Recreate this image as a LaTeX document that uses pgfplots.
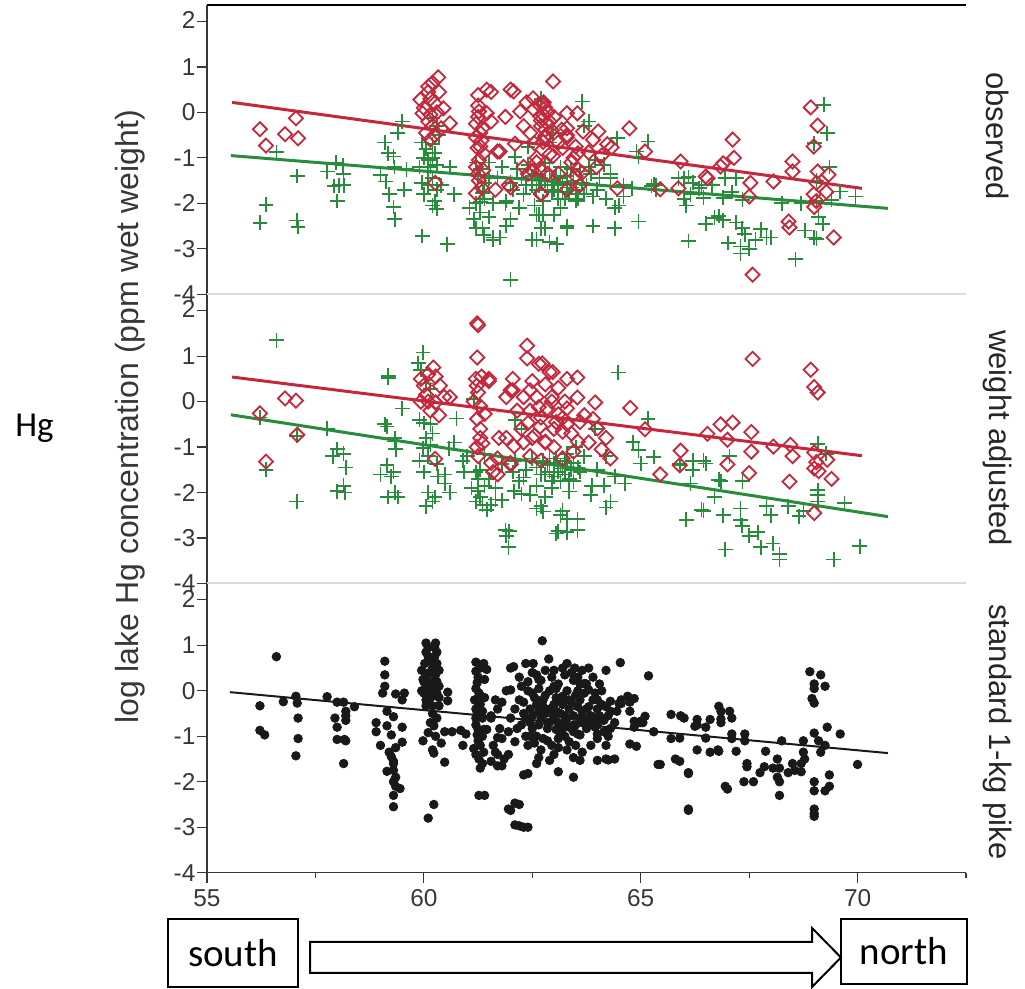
\documentclass[border=0pt]{standalone}
\usepackage{pgfplots}
\pgfplotsset{compat=1.18}
\usepackage{fontspec}
\setmainfont{Liberation Sans}
\newfontfamily\calibri{Carlito}
\definecolor{myred}{RGB}{196,40,60}
\definecolor{mygreen}{RGB}{40,140,60}
\definecolor{tickgray}{RGB}{55,55,55}
\definecolor{sepgray}{RGB}{218,218,218}
\pgfplotsset{
  panel/.style={
    width=379.5pt, height=144.6pt, scale only axis,
    xmin=55, xmax=72.5, ymin=-4, ymax=2.36, clip=false,
    axis y line*=left,
    ytick={-4,-3,-2,-1,0,1,2}, yticklabels={\raisebox{-1.2pt}{-4},-3,-2,-1,0,1,\raisebox{1.2pt}{2}},
    tick align=outside, major tick length=5pt, minor tick length=2.5pt,
    tick style={color=tickgray, line width=0.6pt},
    axis line style={color=tickgray, line width=0.8pt},
    ticklabel style={font=\fontsize{12.2}{12.2}\selectfont, text=tickgray},
    yticklabel style={inner sep=0.6pt},
  },
  redpts/.style={only marks, mark=square, mark size=2.5pt, mark options={rotate=45, draw=myred, line width=0.9pt, fill=none}},
  greenpts/.style={only marks, mark=+, mark size=3.7pt, mark options={draw=mygreen, line width=0.85pt}},
}
\begin{document}
\begin{tikzpicture}
\useasboundingbox (0,0) rectangle (512.5pt,494.5pt);
% ---------------- top panel: observed
\begin{axis}[panel, at={(103.5pt,347.35pt)}, anchor=south west, axis x line=none]
\addplot[greenpts] table {
56.22 -2.43
56.36 -2.03
56.6 -0.87
57.08 -1.4
57.07 -2.38
57.1 -2.52
57.77 -1.3
57.98 -1.1
57.93 -1.62
58.0 -1.95
58.13 -1.17
58.15 -1.35
58.16 -1.6
58.05 -1.6
59.0 -1.37
59.1 -0.66
59.18 -0.9
59.3 -0.97
59.32 -1.2
59.12 -1.52
59.2 -1.8
59.3 -2.08
59.33 -2.35
59.5 -0.2
59.4 -0.45
59.6 -1.25
59.55 -1.7
59.96 -2.72
59.95 -0.66
60.05 -0.8
60.2 -1.0
60.1 -1.05
60.3 -1.15
59.95 -1.55
60.1 -1.3
60.2 -1.45
60.2 -2.05
60.3 -2.12
60.25 -1.95
60.54 -2.9
60.6 -1.2
60.7 -1.8
60.2 -0.13
60.3 -0.3
60.15 -1.2
60.25 -0.9
61.05 -2.1
61.15 -2.35
61.2 -2.55
61.35 -2.55
61.38 -2.7
61.3 -1.97
61.3 -2.2
61.37 -1.75
61.6 -2.75
61.75 -2.75
62.0 -3.68
61.88 -2.0
62.0 -2.35
62.05 -1.7
62.15 -1.25
62.6 -2.8
62.6 -2.25
62.75 -1.95
62.75 -2.25
62.8 -2.55
63.07 -2.9
63.15 -2.1
63.3 -2.55
62.7 0.3
62.9 -0.66
63.65 0.24
62.98 -0.46
63.7 -0.3
64.46 -0.57
65.17 -0.64
64.9 -0.86
65.3 -1.58
65.87 -1.45
66.1 -1.42
66.4 -1.6
66.0 -1.9
66.05 -2.05
64.95 -2.4
66.1 -2.83
67.02 -2.87
66.5 -2.45
66.7 -2.32
66.8 -2.28
61.6 -2.8
62.5 -2.8
62.9 -2.85
62.7 -2.55
63.3 -2.5
63.9 -2.5
62.65 -2.25
63.0 -2.25
62.2 -2.1
61.5 -2.3
61.6 -2.0
61.9 -1.95
64.4 -2.1
64.6 -1.85
63.5 -1.95
62.95 -1.6
63.0 -1.7
63.55 -1.9
63.65 -1.55
64.3 -1.45
63.3 -1.4
62.25 -1.45
62.0 -1.55
62.5 -1.4
62.65 -1.6
61.7 -1.45
61.5 -1.45
61.35 -1.78
63.8 -0.2
62.4 -0.76
62.1 -0.98
62.8 -1.12
63.15 -1.2
63.8 -1.2
63.95 -1.05
64.3 -1.35
64.6 -1.6
64.8 -1.67
65.35 -1.6
66.35 -1.67
67.1 -1.75
67.2 -1.45
64.95 -0.97
66.0 -1.45
66.2 -1.55
66.15 -1.8
66.45 -1.88
66.65 -1.6
66.95 -1.45
66.9 -1.88
64.4 -2.55
66.9 -2.37
67.2 -2.42
67.34 -2.55
67.4 -2.68
67.3 -2.95
67.3 -3.1
67.5 -3.0
67.65 -2.8
67.77 -2.57
67.9 -2.75
68.0 -2.75
68.57 -3.23
68.78 -2.6
69.0 -2.75
69.05 -2.78
69.2 -2.45
69.1 -2.3
69.05 -1.95
68.7 -2.0
68.25 -2.0
67.35 -1.92
69.22 0.17
69.3 -0.46
69.0 -0.68
69.35 -1.2
69.05 -1.5
69.4 -1.92
69.6 -1.74
69.95 -1.85
65.25 -1.62
65.35 -1.7
64.5 -2.05
62.9 -1.3
63.0 -1.5
63.1 -1.6
62.8 -1.5
63.2 -1.75
63.4 -1.65
62.6 -1.7
62.3 -1.8
61.8 -1.2
61.2 -1.1
61.25 -1.4
61.4 -1.55
64.0 -1.7
64.2 -1.9
63.7 -1.8
63.85 -1.35
64.15 -1.15
60.4 -1.6
60.0 -1.8
62.35 -1.6
63.25 -1.9
63.45 -1.5
62.55 -2.05
61.9 -2.5
62.4 -1.15
62.6 -1.35
62.7 -1.45
62.85 -1.7
63.05 -1.4
63.1 -1.9
63.2 -1.55
63.35 -1.8
63.5 -1.7
63.6 -1.3
63.75 -1.6
63.9 -1.85
64.05 -1.45
62.95 -1.75
63.15 -1.45
63.4 -1.25
63.3 -1.65
62.5 -1.6
60.1 -1.6
60.2 -0.7
60.0 -1.0
60.3 -1.7
59.9 -1.2
60.35 -0.5
61.3 -1.25
61.4 -1.9
61.2 -2.0
61.5 -1.1
};
\addplot[redpts] table {
56.22 -0.37
56.36 -0.73
56.8 -0.48
57.05 -0.13
57.1 -0.57
60.33 0.77
60.1 0.57
60.2 0.65
59.92 0.28
60.45 0.09
59.97 -0.02
60.6 -0.24
60.1 -0.2
60.2 -0.3
60.05 -0.45
60.15 -0.6
60.25 -0.5
60.26 -1.55
60.1 0.45
60.0 0.1
60.3 0.0
60.4 -0.35
60.15 0.3
60.35 0.45
61.45 0.5
61.25 0.38
61.55 0.45
61.27 0.02
61.2 -0.25
61.3 -0.45
61.2 -0.55
61.33 -0.62
61.24 -0.78
61.37 -0.9
61.27 -1.05
61.2 -1.2
61.37 -1.27
61.27 -1.5
61.2 -1.78
61.33 -1.65
61.55 -0.2
61.45 -0.02
61.25 -0.1
61.35 -0.35
61.7 -0.86
61.65 -1.7
62.0 0.5
61.88 -0.1
62.0 -1.65
62.22 0.02
62.37 0.22
62.53 0.07
62.65 0.18
62.76 0.22
62.98 0.68
62.3 -0.3
62.45 -0.45
62.55 -0.68
62.68 -0.08
62.7 -0.3
62.8 -0.52
62.6 -1.0
62.3 -1.2
62.5 -1.28
62.7 -1.78
62.4 -1.35
62.9 -0.92
62.85 -1.35
63.3 -0.02
63.18 -0.38
63.3 -0.55
63.2 -0.78
63.3 -1.7
62.07 0.46
62.52 0.31
62.75 0.18
62.7 -0.18
62.8 -0.38
63.54 -0.02
63.3 -0.35
63.67 -0.42
64.02 -0.42
64.74 -0.35
64.23 -0.7
64.33 -0.77
65.1 -0.86
65.92 -1.08
66.84 -1.19
67.12 -0.6
67.15 -1.0
66.54 -1.45
65.87 -1.67
65.45 -1.69
64.46 -1.67
63.6 -1.6
63.65 -1.33
63.55 -1.25
62.7 -1.27
62.6 -1.1
61.96 -1.6
62.7 -1.8
61.75 -0.86
62.1 -0.69
62.8 -0.55
63.1 -0.66
63.55 -0.9
63.5 -0.75
62.98 -0.96
63.3 -0.5
63.8 -0.88
63.98 -1.2
62.85 0.0
62.9 -0.2
62.95 -0.4
63.0 -0.1
63.9 -0.6
64.1 -0.95
63.4 -1.1
63.1 -1.35
66.9 -1.12
67.53 -1.55
67.5 -1.85
67.58 -3.57
68.06 -1.52
68.5 -1.08
68.5 -1.3
68.41 -2.4
68.43 -2.53
68.92 0.11
69.08 -0.29
68.99 -0.75
69.08 -1.3
69.33 -1.37
69.28 -1.75
68.99 -1.8
69.05 -1.95
69.0 -2.08
69.45 -2.75
66.5 -1.41
69.05 -1.55
62.75 -0.05
62.8 0.1
62.85 -0.25
62.75 -0.65
61.25 0.15
61.3 -0.75
61.25 -1.35
60.15 -0.05
60.25 0.2
63.5 -1.4
63.45 -1.0
};
\addplot[no marks, color=mygreen, line width=1.5pt] coordinates {(55.55,-0.95) (70.7,-2.11)};
\addplot[no marks, color=myred, line width=1.5pt] coordinates {(55.58,0.22) (70.1,-1.67)};
\end{axis}
% ---------------- middle panel: weight adjusted
\begin{axis}[panel, at={(103.5pt,202.75pt)}, anchor=south west, axis x line=none]
\addplot[greenpts] table {
56.6 1.35
56.22 -0.35
56.36 -1.5
57.07 -0.75
57.07 -2.2
57.77 -0.6
57.9 -1.2
58.0 -1.05
58.15 -1.15
58.2 -1.45
58.0 -1.97
58.15 -1.85
58.18 -2.0
59.18 0.57
59.18 0.52
59.1 -0.5
59.15 -0.55
59.33 -0.8
59.33 -0.88
59.5 -0.15
59.0 -1.6
59.15 -1.4
59.25 -1.65
59.3 -1.55
59.33 -2.0
59.17 -2.1
59.4 -2.1
59.35 -1.05
59.98 1.08
59.87 0.85
59.93 0.7
60.05 0.4
60.15 0.27
59.9 -0.4
60.0 -0.47
60.15 -0.5
60.05 -0.8
59.98 -1.02
60.15 -0.95
59.9 -1.3
60.3 -1.37
60.32 -1.65
60.48 -1.6
60.1 -2.0
60.25 -2.1
60.05 -2.3
60.2 -2.2
60.48 -1.8
60.58 -1.03
60.75 -0.37
60.92 -1.55
61.0 -1.2
61.1 -1.9
61.25 -1.97
61.2 -2.2
61.35 -2.27
61.45 -2.38
61.55 -2.27
61.65 -2.15
61.88 -2.83
61.9 -2.95
61.95 -3.2
62.08 -1.97
62.3 -1.67
62.45 -2.05
62.6 -2.35
62.75 -2.42
63.05 -2.9
63.15 -2.5
63.3 -2.87
63.3 -2.58
63.15 -1.75
61.15 0.05
64.48 0.64
65.17 -0.38
64.82 -0.89
64.95 -1.07
65.3 -1.22
65.0 -1.36
64.63 -1.8
64.4 -1.65
64.2 -2.33
63.54 -2.58
63.54 -2.83
63.1 -2.85
61.97 -2.85
63.2 -2.4
62.7 -2.3
62.25 -2.03
61.8 -2.17
62.95 -1.9
63.35 -1.98
63.85 -2.05
63.6 -1.55
63.2 -1.47
62.85 -1.4
62.5 -1.25
62.1 -1.3
61.8 -1.37
63.05 -1.25
63.35 -1.7
64.0 -1.5
64.15 -1.85
62.25 -0.6
62.1 -0.4
63.95 -0.6
66.15 -1.8
65.9 -1.36
66.2 -1.5
66.5 -1.36
66.8 -1.72
66.05 -2.6
66.4 -2.38
66.7 -2.1
66.9 -2.5
66.95 -3.25
64.3 -2.2
63.87 -1.85
66.45 -2.4
67.3 -2.6
67.34 -2.73
67.5 -2.95
67.7 -2.87
67.77 -3.2
68.05 -3.12
68.2 -3.35
68.2 -3.47
67.9 -2.3
68.0 -2.5
68.4 -2.3
68.65 -2.52
68.75 -2.4
69.45 -3.47
69.7 -2.23
70.05 -3.18
69.08 -0.93
69.28 -1.15
69.08 -1.95
69.08 -2.05
69.08 -2.2
66.2 -1.3
66.45 -1.3
65.9 -1.4
67.05 -1.2
66.85 -1.75
67.35 -1.75
67.3 -2.35
62.9 -1.55
63.0 -1.65
62.7 -1.6
63.25 -1.3
63.45 -1.35
62.6 -1.85
62.35 -1.5
61.5 -1.7
61.3 -1.5
61.4 -1.15
60.7 -0.9
60.9 -1.3
63.7 -1.2
63.5 -1.0
64.2 -1.2
62.8 -2.1
61.65 -1.9
60.6 -2.0
62.6 -1.45
62.8 -1.6
63.0 -1.35
63.1 -1.55
63.25 -1.6
63.4 -1.5
63.3 -1.15
62.95 -1.75
62.9 -1.25
62.75 -1.3
63.15 -1.4
63.55 -1.45
63.45 -1.75
60.0 -1.55
60.1 -1.2
60.2 -0.7
61.2 -1.55
61.3 -2.1
61.25 -1.7
61.4 -1.85
62.05 -1.55
62.2 -1.75
};
\addplot[redpts] table {
56.22 -0.26
56.36 -1.32
56.8 0.07
57.05 0.02
57.08 -0.73
60.22 0.75
60.1 0.6
59.93 0.5
60.27 0.55
60.0 0.35
60.37 0.35
60.05 0.15
59.93 0.0
60.47 0.1
60.27 -0.02
60.1 0.0
60.26 -1.26
60.6 0.1
60.15 -0.2
60.35 -0.3
61.23 1.72
61.25 1.68
61.23 0.97
61.2 0.5
61.33 0.55
61.5 0.5
61.22 0.35
61.15 0.0
61.3 -0.1
61.23 -0.38
61.4 -0.27
61.3 -0.6
61.22 -1.0
61.35 -0.92
61.25 -1.2
61.6 -1.55
61.55 -1.35
61.73 -0.8
62.38 1.23
62.38 0.95
62.05 0.5
61.9 0.1
62.05 0.25
62.3 0.1
62.45 0.25
62.5 0.45
62.65 0.83
62.9 0.65
62.8 0.38
62.65 -0.12
62.15 -0.2
62.4 -0.47
62.55 -0.75
62.68 -0.55
62.8 -0.9
62.08 -0.98
62.0 -1.35
62.45 -1.2
62.7 -1.3
63.3 0.5
63.25 0.0
63.2 -0.36
63.3 -0.5
63.2 -1.25
62.73 0.84
62.97 0.65
63.54 0.53
63.54 0.09
63.95 -0.02
64.76 -0.14
65.1 -0.61
65.92 -1.08
65.9 -1.4
65.45 -1.6
66.54 -0.71
66.84 -0.5
67.12 -0.46
67.0 -0.84
67.0 -1.38
62.7 -0.35
63.1 -0.28
63.3 -0.15
63.6 -0.45
63.7 -0.3
63.9 -0.38
64.0 -0.59
64.2 -0.8
64.3 -1.25
64.1 -1.05
63.55 -0.88
63.2 -0.66
62.8 -0.88
62.5 -0.8
61.9 -0.8
61.7 -1.25
61.7 -1.6
62.0 -1.38
62.25 -0.6
62.45 -0.2
62.0 0.25
61.5 0.45
67.58 0.94
68.92 0.7
69.0 0.32
69.08 0.2
67.55 -0.67
67.55 -1.1
67.5 -1.57
68.06 -0.99
68.45 -0.95
68.5 -1.2
68.43 -1.76
69.0 -1.12
69.05 -1.33
69.0 -1.47
69.1 -1.53
69.3 -1.28
69.4 -1.7
69.0 -2.45
63.0 -0.6
63.4 -0.7
63.8 -0.9
63.0 -1.0
62.95 0.1
63.1 0.3
63.45 -1.1
62.3 -0.9
62.85 -0.15
62.95 0.0
61.25 0.2
61.3 -0.8
63.05 -0.45
62.6 0.1
};
\addplot[no marks, color=mygreen, line width=1.5pt] coordinates {(55.55,-0.29) (70.7,-2.53)};
\addplot[no marks, color=myred, line width=1.5pt] coordinates {(55.58,0.54) (70.1,-1.19)};
\end{axis}
% ---------------- bottom panel: standard 1-kg pike
\begin{axis}[panel, at={(103.5pt,58.15pt)}, anchor=south west, axis x line*=bottom,
  xtick={55,60,65,70}, xticklabels={55,60,65,70}, minor xtick={57.5,62.5,67.5,72.5}]
\addplot[only marks, mark=*, mark size=2.15pt, mark options={draw=black!90, fill=black!90}] table {
56.6 0.75
56.22 -0.33
56.22 -0.87
56.33 -0.97
56.76 -0.24
57.05 -0.12
57.08 -0.27
57.1 -0.6
57.1 -1.05
57.05 -1.43
57.77 -0.13
57.95 -0.6
58.0 -0.25
58.0 -0.8
58.0 -1.07
58.17 -1.07
58.2 -1.1
58.15 -0.25
58.2 -0.45
58.2 -0.55
58.2 -0.65
58.15 -1.6
58.4 -0.35
58.9 -0.7
58.9 -0.9
59.0 -1.2
59.1 0.65
59.1 0.35
59.1 0.1
59.05 -0.05
59.15 -0.45
59.15 -0.77
59.25 -0.97
59.3 -0.57
59.35 -0.07
59.2 -1.35
59.3 -1.55
59.3 -1.75
59.3 -2.0
59.35 -1.9
59.3 -2.3
59.3 -2.55
59.45 -2.15
59.15 -1.77
59.5 -1.13
59.5 -0.8
59.55 -0.05
59.5 -0.2
59.3 -1.6
59.35 -2.1
59.25 -1.45
59.35 -1.25
59.95 0.45
59.98 0.25
60.05 1.05
60.1 0.75
60.02 0.6
60.12 0.4
60.2 0.1
60.27 1.05
60.3 0.85
60.3 0.6
60.27 0.35
60.35 0.1
60.23 -0.1
60.05 -0.33
60.2 -0.33
60.35 -0.33
60.0 -0.05
59.98 -1.1
60.1 -0.92
60.23 -0.77
60.27 -1.0
60.4 -1.15
60.2 -1.3
60.23 -1.37
60.1 -2.8
60.23 -2.5
60.48 -1.57
60.55 -0.03
60.55 -0.22
60.48 -0.9
60.65 -0.9
60.85 -0.87
60.9 -1.2
60.97 -0.95
60.0 0.2
60.1 0.15
60.2 0.5
60.3 0.2
60.15 -0.15
60.25 0.95
60.05 0.85
60.05 0.3
60.15 0.65
60.25 0.75
60.35 0.45
60.1 0.95
60.3 -0.05
60.05 -0.2
60.15 0.0
60.25 0.25
60.35 -0.15
59.95 0.0
60.05 0.1
60.2 -0.5
60.15 -0.7
60.3 -0.6
61.2 0.63
61.38 0.6
61.45 0.47
61.2 0.43
61.23 0.18
61.27 -0.05
61.17 -0.2
61.3 -0.3
61.23 -0.48
61.35 -0.6
61.2 -0.75
61.38 -0.85
61.23 -0.97
61.3 -1.2
61.15 -1.27
61.38 -1.35
61.27 -1.5
61.3 -1.7
61.27 -2.3
61.45 -0.85
61.55 -0.55
61.6 -1.2
61.65 -1.35
61.7 -1.03
61.55 -1.55
61.7 -1.65
61.8 -1.65
61.85 -1.5
61.2 0.05
61.25 -0.35
61.3 0.5
61.2 -0.6
61.35 -0.45
61.25 -0.85
61.3 -0.95
61.2 -1.4
61.35 -1.6
61.4 0.25
61.4 -0.15
62.0 0.5
62.0 0.02
61.95 -2.6
62.1 -2.47
62.1 -2.95
62.3 -3.0
62.3 -1.85
61.25 0.3
61.3 -0.1
61.2 -0.4
61.35 -1.0
61.25 -1.1
62.73 1.1
62.07 0.53
62.35 0.6
62.52 0.6
62.88 0.7
63.2 0.5
63.48 0.5
64.53 0.62
65.18 0.33
62.2 0.3
62.7 0.23
63.0 0.1
63.45 0.23
63.7 0.16
61.9 0.0
62.5 -0.05
62.2 -0.2
62.75 -0.2
63.2 -0.12
63.6 -0.2
63.8 0.02
61.8 -0.25
61.7 -0.4
62.1 -0.4
62.45 -0.4
62.9 -0.4
63.35 -0.4
63.75 -0.4
64.0 -0.4
64.3 -0.23
64.55 -0.2
64.7 -0.12
61.55 -0.6
62.0 -0.6
62.35 -0.6
62.7 -0.6
63.0 -0.6
63.3 -0.6
63.6 -0.6
63.95 -0.6
64.25 -0.55
64.45 -0.45
64.85 -0.67
65.0 -0.67
65.1 -0.56
65.7 -0.52
66.0 -0.6
66.3 -0.75
66.6 -0.63
66.8 -0.34
66.85 -0.45
61.75 -0.83
62.15 -0.83
62.5 -0.83
62.85 -0.83
63.2 -0.83
63.45 -0.9
63.75 -0.83
64.0 -0.75
64.3 -0.83
61.8 -1.05
62.1 -1.12
62.4 -1.2
62.75 -1.05
63.1 -1.05
63.35 -1.12
63.6 -0.97
64.0 -1.05
64.25 -1.0
64.75 -1.17
65.7 -1.05
66.3 -1.3
66.6 -1.35
61.7 -1.4
61.95 -1.4
62.65 -1.47
62.9 -1.53
63.1 -1.25
63.45 -1.47
63.6 -1.53
64.0 -1.53
64.25 -1.52
65.45 -1.62
65.9 -1.55
62.6 -1.6
62.4 -1.82
63.1 -1.78
63.45 -1.9
66.1 -1.82
67.0 -2.16
66.1 -2.63
62.0 -2.63
62.2 -2.5
62.2 -2.97
62.4 -3.0
61.4 -2.3
62.6 -0.3
62.8 -0.5
63.0 -0.3
63.15 -0.5
63.25 -0.7
63.4 -0.25
63.55 -0.35
63.65 -0.7
63.85 -0.55
63.9 -0.2
62.55 -0.15
62.65 0.05
62.9 0.0
63.05 -0.15
63.3 0.0
63.5 -0.1
63.7 -0.05
62.85 -0.7
63.05 -0.85
62.6 -1.0
62.95 -1.2
63.25 -1.0
63.5 -0.75
64.1 -0.3
64.15 -0.9
62.3 -0.25
62.25 -0.75
62.45 -1.0
61.95 -0.9
61.65 -0.2
62.25 0.1
62.4 0.2
62.6 0.35
62.8 0.45
62.95 0.3
63.1 0.15
63.25 0.35
63.4 0.4
63.55 0.3
63.65 0.45
63.9 0.3
64.05 0.15
62.3 -0.5
62.5 -0.55
62.65 -0.75
62.75 -0.35
62.95 -0.5
63.1 -0.7
63.2 -0.3
63.35 -0.8
63.45 -0.55
63.55 -0.95
63.7 -0.6
63.8 -0.35
63.95 -0.8
64.05 -0.55
64.15 -0.65
64.3 -0.45
64.4 -0.7
62.35 -1.0
62.55 -1.15
62.7 -1.3
62.85 -1.1
63.0 -1.4
63.15 -0.95
63.3 -1.3
63.5 -1.2
63.65 -1.35
63.85 -1.2
64.0 -0.95
64.2 -1.2
62.4 0.0
62.6 -0.2
62.8 -0.1
63.05 0.05
63.15 -0.25
63.35 -0.2
63.55 0.0
63.75 0.15
63.95 -0.05
64.1 0.0
62.45 -0.7
62.65 -0.45
62.9 -0.7
63.05 -0.45
63.25 -0.55
63.45 -0.75
63.65 -0.45
63.85 -0.7
64.0 -0.2
64.2 -0.35
62.5 0.4
62.65 0.25
63.0 0.45
63.3 0.6
63.6 0.15
63.8 0.5
64.2 0.45
64.5 -0.28
64.75 -0.45
64.85 -0.17
64.75 -0.25
64.55 -0.28
65.92 -0.55
66.3 -0.63
66.25 -0.78
66.5 -0.8
66.5 -1.04
66.85 -0.7
66.85 -0.62
67.05 -0.45
67.1 -0.6
67.1 -0.95
67.1 -1.05
66.8 -1.33
66.78 -1.3
67.2 -1.33
67.4 -0.95
67.4 -1.1
67.45 -1.6
67.45 -1.67
67.38 -2.0
67.6 -2.0
66.95 -2.1
67.75 -1.8
67.85 -1.67
67.88 -1.33
68.05 -1.7
68.15 -1.5
68.2 -1.7
68.15 -1.9
68.2 -2.0
68.25 -1.1
68.2 -2.3
68.4 -1.8
68.5 -1.6
68.55 -1.75
68.7 -1.78
68.7 -1.6
68.75 -1.35
68.75 -1.1
68.78 -1.5
68.9 0.42
69.15 0.35
69.0 0.05
69.0 0.15
69.25 0.1
68.95 -0.17
69.0 -0.27
69.0 -0.93
69.1 -1.1
69.15 -1.35
69.25 -1.2
69.0 -2.0
69.0 -2.2
69.25 -2.2
69.35 -2.1
69.35 -1.85
69.3 -0.8
69.6 -0.95
69.0 -2.6
69.0 -2.7
69.0 -2.76
70.0 -1.62
64.9 -1.22
65.4 -1.62
65.8 -1.5
66.1 -1.8
66.1 -2.6
64.85 -0.8
64.2 -1.5
64.4 -1.5
65.3 -0.9
65.0 -0.7
65.05 -0.7
65.9 -1.04
};
\addplot[no marks, color=black!90, line width=1pt] coordinates {(55.53,-0.03) (70.7,-1.37)};
\end{axis}
% separators and frame
\draw[sepgray, line width=1pt] (103.5pt,347.35pt) -- (483pt,347.35pt);
\draw[sepgray, line width=1pt] (103.5pt,202.75pt) -- (483pt,202.75pt);
\draw[black, line width=0.8pt] (103.5pt,491.95pt) -- (483pt,491.95pt);
% labels
\node[rotate=90, font=\fontsize{16}{16}\selectfont, text=tickgray] at (65pt,286pt) {log lake Hg concentration (ppm wet weight)};
\node[anchor=base west, font=\calibri\fontsize{17.5}{17.5}\selectfont, inner sep=0pt] at (7.5pt,276pt) {Hg};
\node[rotate=-90, font=\fontsize{15.5}{15.5}\selectfont, text=black!85] at (499pt,426.5pt) {observed};
\node[rotate=-90, font=\fontsize{15.5}{15.5}\selectfont, text=black!85] at (499pt,275.5pt) {weight adjusted};
\node[rotate=-90, font=\fontsize{15.5}{15.5}\selectfont, text=black!85] at (499pt,128.5pt) {standard 1-kg pike};
% south / north
\draw[line width=1pt] (84pt,1pt) rectangle (149pt,35pt);
\node[font=\calibri\fontsize{19.5}{19.5}\selectfont, inner sep=0pt, anchor=base] at (116.5pt,11pt) {south};
\draw[line width=1pt] (420.5pt,2.5pt) rectangle (483.5pt,35pt);
\node[font=\calibri\fontsize{19.5}{19.5}\selectfont, inner sep=0pt, anchor=base] at (452pt,12pt) {north};
\draw[line width=1pt, fill=white] (155pt,8pt) -- (406pt,8pt) -- (406pt,1pt) -- (420.5pt,15.75pt) -- (406pt,30.5pt) -- (406pt,23.5pt) -- (155pt,23.5pt) -- cycle;
\end{tikzpicture}
\end{document}
